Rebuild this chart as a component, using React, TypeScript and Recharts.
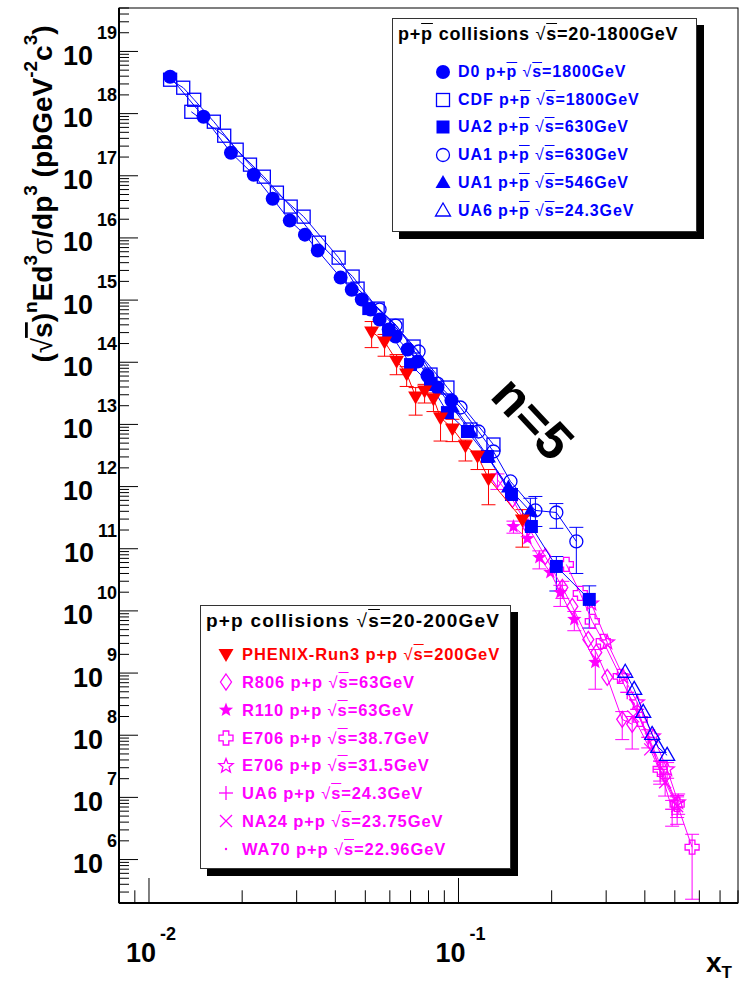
import React from "react";
import { ScatterChart, Scatter, XAxis, YAxis, ErrorBar } from "recharts";

const FONT = '"Liberation Sans", Arial, Helvetica, sans-serif';
const BLUE = "#0000ff";
const RED = "#ff0000";
const MAGENTA = "#ff00ff";

type Pt = [number, number];
type Err = [number, number] | null;

// p+pbar data (blue)
const D0: Pt[] = [
  [0.0117, 3.92e18], [0.015, 8.92e17], [0.0184, 2.35e17], [0.0218, 1.04e17], [0.0251, 4.28e16],
  [0.0285, 1.9e16], [0.0319, 1.13e16], [0.0351, 6.25e15], [0.0416, 2.3e15], [0.0452, 1.47e15],
  [0.0487, 1.02e15], [0.052, 7.04e14], [0.0556, 4.86e14], [0.0595, 3.36e14], [0.0626, 2.59e14],
  [0.0685, 1.6e14], [0.0738, 1.03e14], [0.0794, 6.11e13], [0.0855, 3.92e13], [0.0949, 2.42e13],
];
const CDF_A: Pt[] = [
  [0.0117, 3.51e18], [0.0129, 2.61e18], [0.014, 1.67e18], [0.0162, 7.41e17], [0.0192, 2.63e17],
  [0.0235, 9.67e16], [0.0287, 3.19e16], [0.0354, 8.4e15], [0.0455, 2.39e15], [0.0548, 7.3e14],
  [0.0716, 1.79e14], [0.0921, 3.92e13], [0.1297, 4.75e12],
];
const CDF_B: Pt[] = [
  [0.0137, 1.07e18], [0.0175, 4.41e17], [0.0212, 1.51e17], [0.0259, 5.35e16], [0.0316, 2.2e16],
  [0.041, 4.82e15], [0.0472, 1.53e15], [0.0631, 3.89e14], [0.0812, 6.34e13], [0.1093, 8.28e12],
];
const UA2: Pt[] = [
  [0.0513, 7.3e14], [0.0595, 3.24e14], [0.07, 9.18e13], [0.0812, 4.38e13], [0.0921, 1.55e13],
  [0.1069, 7.69e12], [0.124, 3.05e12], [0.1483, 7.46e11], [0.172, 2.28e11], [0.2071, 5.19e10],
  [0.2646, 1.53e10],
];
const UA2_ERR: Err[] = [null, null, null, null, null, null, null, null, null, [3.1e10, 2.3e10], [1.0e10, 1.0e10]];
const UA1_630: Pt[] = [
  [0.0556, 7.04e14], [0.0626, 3.89e14], [0.0743, 1.49e14], [0.0855, 4.54e13], [0.1015, 1.87e13],
  [0.116, 7.69e12], [0.1297, 3.67e12], [0.1472, 1.21e12], [0.1772, 4.13e11], [0.2071, 3.83e11],
  [0.2403, 1.31e11],
];
const UA1_630_ERR: Err[] = [null, null, null, null, null, null, null, null, [1.85e11, 2.8e11], [1.7e11, 1.5e11], [0.91e11, 0.9e11]];
const UA1_546: Pt[] = [
  [0.0818, 5.27e13], [0.0956, 1.87e13], [0.1093, 7.69e12], [0.125, 2.94e12], [0.145, 9.67e11],
  [0.1707, 3.98e11],
];
const UA1_546_ERR: Err[] = [null, null, null, null, null, [1.5e11, 2.5e11]];
const UA6_PBAR: Pt[] = [
  [0.3457, 1.03e9], [0.3696, 5.47e8], [0.3952, 2.33e8], [0.4225, 1.03e8], [0.4418, 6.39e7],
  [0.4722, 4.75e7],
];

// p+p data (red / magenta)
const PHENIX: Pt[] = [
  [0.0524, 3.12e14], [0.0577, 2.15e14], [0.0631, 1.06e14], [0.068, 6.58e13], [0.0727, 2.81e13],
  [0.0777, 3.51e13], [0.083, 2.61e13], [0.0875, 1.29e13], [0.0956, 8.59e12], [0.1053, 4.58e12],
  [0.1152, 3.13e12], [0.125, 1.35e12], [0.1609, 2.96e11],
];
const PHENIX_ERR: Err[] = [
  [1.4e14, 1.4e14], [0.9e14, 0.65e14], [0.43e14, 0.27e14], [2.5e13, 1.9e13], [1.4e13, 1.1e13],
  [1.3e13, 0.9e13], [1.0e13, 0.6e13], [7.5e12, 3e12], [3.3e12, 3.5e12], [2.0e12, 1.0e12],
  [1.25e12, 0.6e12], [8.4e11, 5.3e11], [1.9e11, 1.3e11],
];
const R806: Pt[] = [
  [0.1336, 1.3e12], [0.1494, 6.2e11], [0.1682, 2.2e11], [0.1908, 7.52e10], [0.2165, 2.39e10],
  [0.2332, 1.18e10], [0.2627, 3.48e9], [0.2787, 2.15e9], [0.3024, 8.53e8], [0.3381, 1.8e8],
  [0.3641, 1.5e8],
];
const R806_ERR: Err[] = [[4e11, 3e11], null, null, null, [8e9, 6e9], null, null, null, null, [9.5e7, 6e7], [9e7, 5e7]];
const R110: Pt[] = [
  [0.1505, 2.28e11], [0.167, 1.46e11], [0.1825, 7.24e10], [0.1981, 4.16e10], [0.2133, 1.98e10],
  [0.2367, 7.3e9], [0.2767, 1.49e9],
];
const R110_ERR: Err[] = [[5e10, 5e10], null, [2.5e10, 2e10], null, [8e9, 6e9], [2.5e9, 2.5e9], [9.4e8, 9e8]];
const E706_387: Pt[] = [
  [0.2231, 5.59e10], [0.2475, 1.91e10], [0.2706, 6.78e9], [0.2936, 3.23e9], [0.3332, 8.85e8],
  [0.3865, 1.8e8], [0.4483, 2.83e7], [0.5087, 7.74e6], [0.5686, 1.58e6],
];
const E706_387_ERR: Err[] = [null, null, null, null, null, null, [1e7, 1e7], [3e6, 3e6], [1.35e6, 0.97e6]];
const E706_315: Pt[] = [
  [0.2685, 1.32e10], [0.3024, 3.12e9], [0.3407, 8.85e8], [0.3779, 3.38e8], [0.4256, 9.6e7],
  [0.4722, 2.83e7], [0.5125, 8.34e6],
];
const E706_315_ERR: Err[] = [null, null, null, null, null, [8e6, 8e6], [3e6, 3e6]];
const UA6_PP: Pt[] = [[0.3509, 4.9e8], [0.3779, 2.61e8], [0.4102, 9.25e7], [0.4483, 2.83e7], [0.4901, 6.44e6]];
const UA6_PP_ERR: Err[] = [null, null, [3e7, 3e7], [1.2e7, 1e7], [3e6, 2.5e6]];
const NA24: Pt[] = [[0.3669, 2.01e8], [0.4163, 5.93e7], [0.4652, 1.75e7], [0.5087, 7.19e6]];
const NA24_ERR: Err[] = [null, null, [7e6, 6e6], [3.5e6, 3e6]];
const WA70: Pt[] = [[0.3589, 3.78e8], [0.4011, 1.24e8], [0.4483, 3.41e7], [0.5012, 9.32e6]];

// axes
const X_DOMAIN: Pt = [0.008, 0.8];
const Y_DOMAIN: Pt = [2e5, 5e19];
const X_DECADES = [-3, -2, -1];
const Y_DECADES = [5, 6, 7, 8, 9, 10, 11, 12, 13, 14, 15, 16, 17, 18, 19];
const MULTS = [1, 2, 3, 4, 5, 6, 7, 8, 9];

const logTicks = (decades: number[], dom: Pt) =>
  decades
    .flatMap((d) => MULTS.map((m) => m * Math.pow(10, d)))
    .filter((v) => v >= dom[0] * 0.999 && v <= dom[1] * 1.001);

type Kind =
  | "circleFill" | "squareOpen" | "squareFill" | "circleOpen" | "triUpFill" | "triUpOpen"
  | "triDownFill" | "diamondOpen" | "starFill" | "starOpen" | "crossOpen" | "plus" | "xMark" | "dot";

const starPts = (cx: number, cy: number, ro: number, ri: number) =>
  Array.from({ length: 10 }, (_, i) => {
    const r = i % 2 === 0 ? ro : ri;
    const a = -Math.PI / 2 + (i * Math.PI) / 5;
    return `${cx + r * Math.cos(a)},${cy + r * Math.sin(a)}`;
  }).join(" ");

const Marker = ({ kind, color, cx, cy }: { kind: Kind; color: string; cx: number; cy: number }) => {
  if (cx == null || cy == null || isNaN(cx) || isNaN(cy)) return null;
  const sw = 1.3;
  switch (kind) {
    case "circleFill":
      return <circle cx={cx} cy={cy} r={7} fill={color} />;
    case "circleOpen":
      return <circle cx={cx} cy={cy} r={6.5} fill="none" stroke={color} strokeWidth={sw} />;
    case "squareFill":
      return <rect x={cx - 6.5} y={cy - 6.5} width={13} height={13} fill={color} />;
    case "squareOpen":
      return <rect x={cx - 6.5} y={cy - 6.5} width={13} height={13} fill="none" stroke={color} strokeWidth={sw} />;
    case "triUpFill":
      return <polygon points={`${cx},${cy - 8} ${cx - 7.5},${cy + 5} ${cx + 7.5},${cy + 5}`} fill={color} />;
    case "triUpOpen":
      return <polygon points={`${cx},${cy - 8} ${cx - 7.5},${cy + 5} ${cx + 7.5},${cy + 5}`} fill="none" stroke={color} strokeWidth={sw} />;
    case "triDownFill":
      return <polygon points={`${cx - 7.5},${cy - 5} ${cx + 7.5},${cy - 5} ${cx},${cy + 8}`} fill={color} />;
    case "diamondOpen":
      return <polygon points={`${cx},${cy - 8} ${cx + 5.5},${cy} ${cx},${cy + 8} ${cx - 5.5},${cy}`} fill="none" stroke={color} strokeWidth={sw} />;
    case "starFill":
      return <polygon points={starPts(cx, cy, 7.5, 3.2)} fill={color} />;
    case "starOpen":
      return <polygon points={starPts(cx, cy, 7.5, 3.2)} fill="none" stroke={color} strokeWidth={sw} />;
    case "crossOpen": {
      const a = 2.8, b = 7;
      const p = [
        [-a, -b], [a, -b], [a, -a], [b, -a], [b, a], [a, a], [a, b], [-a, b], [-a, a], [-b, a], [-b, -a], [-a, -a],
      ].map(([dx, dy]) => `${cx + dx},${cy + dy}`).join(" ");
      return <polygon points={p} fill="none" stroke={color} strokeWidth={sw} />;
    }
    case "plus":
      return (
        <g stroke={color} strokeWidth={sw}>
          <line x1={cx - 7} x2={cx + 7} y1={cy} y2={cy} />
          <line x1={cx} x2={cx} y1={cy - 7} y2={cy + 7} />
        </g>
      );
    case "xMark":
      return (
        <g stroke={color} strokeWidth={sw}>
          <line x1={cx - 6} x2={cx + 6} y1={cy - 6} y2={cy + 6} />
          <line x1={cx - 6} x2={cx + 6} y1={cy + 6} y2={cy - 6} />
        </g>
      );
    case "dot":
      return <circle cx={cx} cy={cy} r={1.2} fill={color} />;
  }
  return null;
};

interface Series {
  id: string;
  pts: Pt[];
  err?: Err[];
  color: string;
  kind: Kind;
}

// drawing order: magenta first, then blue, red on top
const SERIES: Series[] = [
  { id: "r806", pts: R806, err: R806_ERR, color: MAGENTA, kind: "diamondOpen" },
  { id: "r110", pts: R110, err: R110_ERR, color: MAGENTA, kind: "starFill" },
  { id: "e706a", pts: E706_387, err: E706_387_ERR, color: MAGENTA, kind: "crossOpen" },
  { id: "e706b", pts: E706_315, err: E706_315_ERR, color: MAGENTA, kind: "starOpen" },
  { id: "ua6pp", pts: UA6_PP, err: UA6_PP_ERR, color: MAGENTA, kind: "plus" },
  { id: "na24", pts: NA24, err: NA24_ERR, color: MAGENTA, kind: "xMark" },
  { id: "wa70", pts: WA70, color: MAGENTA, kind: "dot" },
  { id: "cdfa", pts: CDF_A, color: BLUE, kind: "squareOpen" },
  { id: "cdfb", pts: CDF_B, color: BLUE, kind: "squareOpen" },
  { id: "d0", pts: D0, color: BLUE, kind: "circleFill" },
  { id: "ua2", pts: UA2, err: UA2_ERR, color: BLUE, kind: "squareFill" },
  { id: "ua1a", pts: UA1_630, err: UA1_630_ERR, color: BLUE, kind: "circleOpen" },
  { id: "ua1b", pts: UA1_546, err: UA1_546_ERR, color: BLUE, kind: "triUpFill" },
  { id: "ua6pb", pts: UA6_PBAR, color: BLUE, kind: "triUpOpen" },
  { id: "phenix", pts: PHENIX, err: PHENIX_ERR, color: RED, kind: "triDownFill" },
];

const isMajor = (v: number) => {
  const lg = Math.log10(v);
  return Math.abs(lg - Math.round(lg)) < 1e-6;
};

const XTick = (props: any) => {
  const { x, y, payload } = props;
  const major = isMajor(payload.value);
  return (
    <g>
      <line x1={x} x2={x} y1={y} y2={y - (major ? 25 : 12.7)} stroke="#000" strokeWidth={1} />
      {major && (
        <text x={x - 23} y={y + 59} fontFamily={FONT} fontWeight="bold" fill="#000">
          <tspan fontSize={27}>10</tspan>
          <tspan fontSize={18} dx={4} dy={-22}>{Math.round(Math.log10(payload.value))}</tspan>
        </text>
      )}
    </g>
  );
};

const YTick = (props: any) => {
  const { x, y, payload } = props;
  const major = isMajor(payload.value);
  return (
    <g>
      <line x1={x} x2={x + (major ? 19 : 10)} y1={y} y2={y} stroke="#000" strokeWidth={1} />
      {major && (
        <text x={x - 2} y={y + 13.5} textAnchor="end" fontFamily={FONT} fontWeight="bold" fill="#000">
          <tspan fontSize={27}>10</tspan>
          <tspan fontSize={18} dx={4} dy={-25.7}>{Math.round(Math.log10(payload.value))}</tspan>
        </text>
      )}
    </g>
  );
};

const Ov = ({ children }: { children: React.ReactNode }) => (
  <span style={{ textDecoration: "overline" }}>{children}</span>
);

interface LegendRow {
  label: string;
  pbar: boolean;
  energy: string;
  kind: Kind;
  color: string;
}

const TOP_ROWS: LegendRow[] = [
  { label: "D0", pbar: true, energy: "1800", kind: "circleFill", color: BLUE },
  { label: "CDF", pbar: true, energy: "1800", kind: "squareOpen", color: BLUE },
  { label: "UA2", pbar: true, energy: "630", kind: "squareFill", color: BLUE },
  { label: "UA1", pbar: true, energy: "630", kind: "circleOpen", color: BLUE },
  { label: "UA1", pbar: true, energy: "546", kind: "triUpFill", color: BLUE },
  { label: "UA6", pbar: true, energy: "24.3", kind: "triUpOpen", color: BLUE },
];
const BOTTOM_ROWS: LegendRow[] = [
  { label: "PHENIX-Run3", pbar: false, energy: "200", kind: "triDownFill", color: RED },
  { label: "R806", pbar: false, energy: "63", kind: "diamondOpen", color: MAGENTA },
  { label: "R110", pbar: false, energy: "63", kind: "starFill", color: MAGENTA },
  { label: "E706", pbar: false, energy: "38.7", kind: "crossOpen", color: MAGENTA },
  { label: "E706", pbar: false, energy: "31.5", kind: "starOpen", color: MAGENTA },
  { label: "UA6", pbar: false, energy: "24.3", kind: "plus", color: MAGENTA },
  { label: "NA24", pbar: false, energy: "23.75", kind: "xMark", color: MAGENTA },
  { label: "WA70", pbar: false, energy: "22.96", kind: "dot", color: MAGENTA },
];

const textAt = (left: number, baseline: number, size: number, ls: number): React.CSSProperties => ({
  position: "absolute",
  left,
  top: baseline - 0.8465 * size,
  fontSize: size,
  letterSpacing: ls,
  lineHeight: 1,
  whiteSpace: "nowrap",
  fontFamily: FONT,
  fontWeight: "bold",
});

const LegendBox = (p: {
  box: [number, number, number, number];
  title: React.ReactNode;
  titleX: number;
  titleBase: number;
  titleSize: number;
  titleLs: number;
  rows: LegendRow[];
  markX: number;
  textX: number;
  firstY: number;
  step: number;
  size: number;
  ls: number;
}) => (
  <>
    <div
      style={{
        position: "absolute",
        left: p.box[0],
        top: p.box[1],
        width: p.box[2],
        height: p.box[3],
        boxSizing: "border-box",
        border: "1px solid #333",
        background: "#fff",
        boxShadow: "7px 7px 0 #000",
      }}
    />
    <div style={{ ...textAt(p.titleX, p.titleBase, p.titleSize, p.titleLs), color: "#000" }}>{p.title}</div>
    {p.rows.map((r, i) => {
      const cy = p.firstY + i * p.step;
      return (
        <React.Fragment key={i}>
          <svg style={{ position: "absolute", left: p.markX - 10, top: cy - 10 }} width={20} height={20}>
            <Marker kind={r.kind} color={r.color} cx={10} cy={10} />
          </svg>
          <div style={{ ...textAt(p.textX, cy + 0.358 * p.size, p.size, p.ls), color: r.color }}>
            {r.label} p+{r.pbar ? <Ov>p</Ov> : "p"} <span style={{ fontWeight: "normal" }}>√</span>
            <Ov>s</Ov>={r.energy}GeV
          </div>
        </React.Fragment>
      );
    })}
  </>
);

export default function App() {
  const xTicks = logTicks(X_DECADES, X_DOMAIN);
  const yTicks = logTicks(Y_DECADES, Y_DOMAIN);
  return (
    <div style={{ position: "absolute", left: 0, top: 0, width: 741, height: 982, background: "#fff" }}>
      <ScatterChart width={741} height={982} margin={{ top: 8, right: 3, bottom: 0, left: 0 }}>
        <XAxis
          type="number"
          dataKey="x"
          scale="log"
          domain={X_DOMAIN}
          allowDataOverflow
          ticks={xTicks}
          interval={0}
          height={79}
          tickSize={0}
          tickMargin={0}
          tickLine={false}
          axisLine={{ stroke: "#000", strokeWidth: 2 }}
          tick={(p: any) => <XTick {...p} />}
        />
        <YAxis
          type="number"
          dataKey="y"
          scale="log"
          domain={Y_DOMAIN}
          allowDataOverflow
          ticks={yTicks}
          interval={0}
          width={119}
          tickSize={0}
          tickMargin={0}
          tickLine={false}
          axisLine={{ stroke: "#000", strokeWidth: 2 }}
          tick={(p: any) => <YTick {...p} />}
        />
        {SERIES.map((s) => (
          <Scatter
            key={s.id}
            data={s.pts.map(([x, y], i) => ({ x, y, err: s.err ? s.err[i] ?? undefined : undefined }))}
            fill={s.color}
            line={{ stroke: s.color, strokeWidth: 1 }}
            lineType="joint"
            isAnimationActive={false}
            shape={(p: any) => <Marker kind={s.kind} color={s.color} cx={p.cx} cy={p.cy} />}
          >
            {s.err && <ErrorBar dataKey="err" direction="y" width={7} stroke={s.color} strokeWidth={1} />}
          </Scatter>
        ))}
      </ScatterChart>

      <svg
        width={741}
        height={982}
        style={{ position: "absolute", left: 0, top: 0, pointerEvents: "none" }}
      >
        <rect x={119} y={8} width={619} height={895} fill="none" stroke="#000" strokeWidth={1} />
        <text
          transform="translate(52,194) rotate(-90)"
          textAnchor="middle"
          fontFamily={FONT}
          fontWeight="bold"
          fontSize={28}
          fill="#000"
        >
          <tspan>(</tspan>
          <tspan fontWeight="normal">√</tspan>
          <tspan style={{ textDecoration: "overline" }}>s</tspan>
          <tspan>)</tspan>
          <tspan fontSize={19} dy={-15}>n</tspan>
          <tspan dy={15}>Ed</tspan>
          <tspan fontSize={19} dy={-15}>3</tspan>
          <tspan dy={15} fontWeight="normal">σ</tspan>
          <tspan>/dp</tspan>
          <tspan fontSize={19} dy={-15}>3</tspan>
          <tspan dy={15}> (pbGeV</tspan>
          <tspan fontSize={19} dy={-15}>-2</tspan>
          <tspan dy={15}>c</tspan>
          <tspan fontSize={19} dy={-15}>3</tspan>
          <tspan dy={15}>)</tspan>
        </text>
        <text x={706} y={972} fontFamily={FONT} fontWeight="bold" fill="#000">
          <tspan fontSize={28}>x</tspan>
          <tspan fontSize={17} dy={6}>T</tspan>
        </text>
        <text
          transform="translate(533,418) rotate(47)"
          textAnchor="middle"
          dominantBaseline="central"
          fontFamily={FONT}
          fontWeight="bold"
          fontSize={52}
          fill="#000"
        >
          n=5
        </text>
      </svg>

      <LegendBox
        box={[392, 18, 305, 214]}
        title={
          <>
            p+<Ov>p</Ov> collisions <span style={{ fontWeight: "normal" }}>√</span>
            <Ov>s</Ov>=20-1800GeV
          </>
        }
        titleX={398}
        titleBase={40}
        titleSize={18}
        titleLs={0.8}
        rows={TOP_ROWS}
        markX={443}
        textX={458}
        firstY={71.7}
        step={27.8}
        size={16}
        ls={0.9}
      />
      <LegendBox
        box={[200, 605, 311, 264]}
        title={
          <>
            p+p collisions <span style={{ fontWeight: "normal" }}>√</span>
            <Ov>s</Ov>=20-200GeV
          </>
        }
        titleX={206}
        titleBase={627}
        titleSize={19}
        titleLs={1.2}
        rows={BOTTOM_ROWS}
        markX={226}
        textX={242}
        firstY={654.3}
        step={27.8}
        size={16.5}
        ls={0.9}
      />
    </div>
  );
}
